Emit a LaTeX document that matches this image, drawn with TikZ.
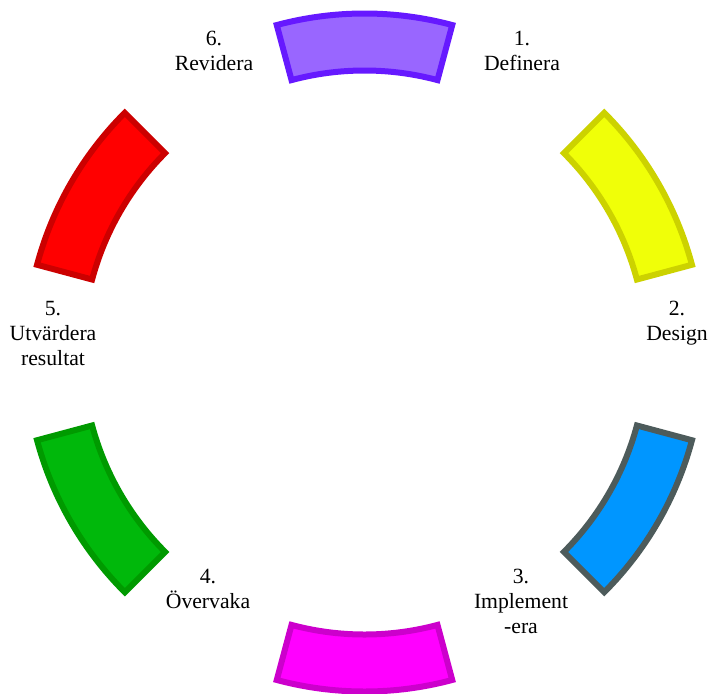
\documentclass[tikz,border=0pt]{standalone}
\usepackage{fontspec}
\setmainfont{Liberation Serif}
\usetikzlibrary{calc}
\definecolor{purpfill}{HTML}{9966FF}\definecolor{purpline}{HTML}{6619FF}
\definecolor{yelfill}{HTML}{F0FF08}\definecolor{yelline}{HTML}{CCD200}
\definecolor{bluefill}{HTML}{0096FF}\definecolor{blueline}{HTML}{4D5B5B}
\definecolor{magfill}{HTML}{FF00FF}\definecolor{magline}{HTML}{CC00CC}
\definecolor{grnfill}{HTML}{00B80B}\definecolor{grnline}{HTML}{009A00}
\definecolor{redfill}{HTML}{FF0000}\definecolor{redline}{HTML}{CC0000}
\tikzset{
  seg/.style={line width=3pt, line join=miter},
  lbl/.style={align=center, anchor=north, inner sep=0pt, font=\fontsize{10.85}{12.5}\selectfont},
}
\newcommand{\segment}[4]{%
  \draw[seg, draw=#3, fill=#4] ($(c)+(#1:169.5pt)$) arc[start angle=#1, end angle=#2, radius=169.5pt]
    -- ($(c)+(#2:141pt)$) arc[start angle=#2, end angle=#1, radius=141pt] -- cycle;}
\begin{document}
\begin{tikzpicture}
\useasboundingbox (0pt,0pt) rectangle (355pt,346.5pt);
\coordinate (c) at (182.25pt,170.25pt);
\segment{75}{105}{purpline}{purpfill}
\segment{15}{45}{yelline}{yelfill}
\segment{-45}{-15}{blueline}{bluefill}
\segment{-105}{-75}{magline}{magfill}
\segment{-165}{-135}{grnline}{grnfill}
\segment{135}{165}{redline}{redfill}
\node[lbl] (l1) at (261pt,331.3pt) {1.\\Definera};
\node[lbl] (l2) at (338.5pt,196.3pt) {2.\\Design};
\node[lbl] (l3) at (260.5pt,62.3pt) {3.\\Implement\\-era};
\node[lbl] (l4) at (104pt,62.3pt) {4.\\Övervaka};
\node[lbl] (l5) at (26.5pt,196.3pt) {5.\\Utvärdera\\resultat};
\node[lbl] (l6) at (107pt,331.3pt) {6.\\Revidera};
\end{tikzpicture}
\end{document}
